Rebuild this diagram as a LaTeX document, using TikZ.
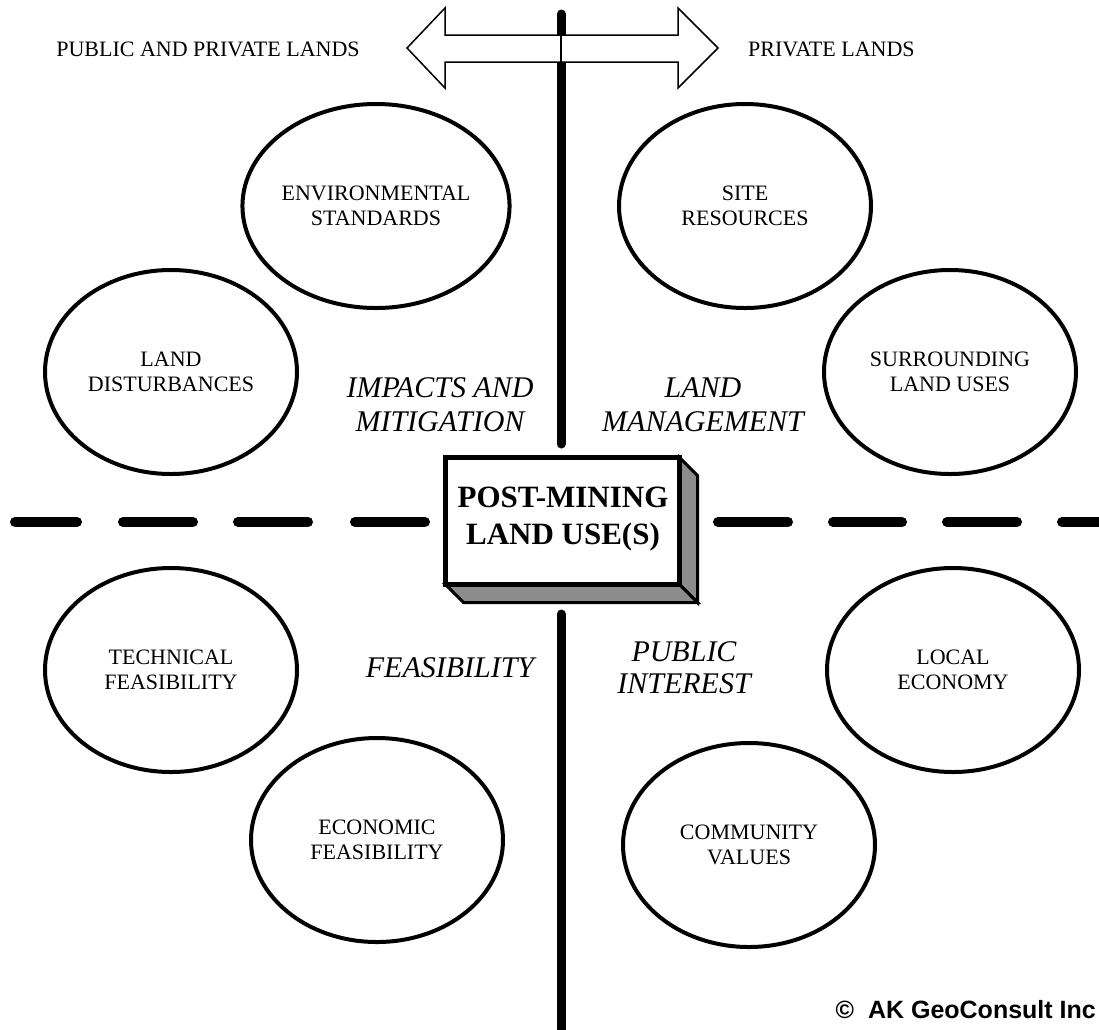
\documentclass[tikz,border=0pt]{standalone}
\usepackage{fontspec}
\setmainfont{Liberation Serif}
\newfontfamily\arialf{Liberation Sans}
\usetikzlibrary{shapes.geometric,calc}
\begin{document}
\begin{tikzpicture}[x=1pt,y=-1pt,
  oval/.style={draw, line width=4pt, ellipse, minimum width=252pt, minimum height=204pt,
    inner sep=0pt, align=center, font=\fontsize{22}{25}\selectfont},
  hdr/.style={font=\fontsize{22}{25}\selectfont, inner sep=0pt},
  itl/.style={font=\fontsize{30}{34}\selectfont\itshape, align=center, inner sep=0pt},
  divider/.style={line width=9pt, line cap=round},
  dashseg/.style={line width=10pt, line cap=round},
  side/.style={draw, line width=3pt, line join=miter, fill=black!45}]
\useasboundingbox (0,0) rectangle (1099,1029);

% vertical divider (upper part behind arrow)
\coordinate (vtop) at (561,14);
\coordinate (vmid) at (561,444);
\coordinate (vlow) at (561,614);
\coordinate (vbot) at (561,1040);
\draw[divider] (vtop) -- (vmid);
\draw[divider] (vlow) -- (vbot);

% double arrow
\draw[line width=1.5pt, fill=white, line join=miter]
  (407,48) -- (445,8) -- (445,35) -- (678,35) -- (678,8) -- (718,48)
  -- (678,88) -- (678,62) -- (445,62) -- (445,88) -- cycle;
\coordinate (atop) at (561,35);
\coordinate (abot) at (561,62);
\draw[line width=1.2pt] (atop) -- (abot);

% header labels
\node[hdr] (publab) at (208,49) {PUBLIC AND PRIVATE LANDS};
\node[hdr, anchor=west] (privlab) at (748,49) {PRIVATE LANDS};

% horizontal dashed divider
\foreach \a/\b in {15/77,123/193,238/308,355/425,718/788,833/902,947/1017,1062/1132}{
  \draw[dashseg] (\a,522) -- (\b,522);
}

% central box
\node[draw, line width=4.5pt, fill=white, minimum width=234pt, minimum height=127pt,
      inner sep=0pt, outer sep=0pt] (box) at (562.5,521) {};
\draw[side] (box.north east) -- ++(18,18) -- ($(box.south east)+(18,18)$) -- (box.south east) -- cycle;
\draw[side] (box.south west) -- ++(18,18) -- ($(box.south east)+(18,18)$) -- (box.south east) -- cycle;
\draw[line width=4.5pt] (box.north west) rectangle (box.south east);
\node[font=\fontsize{31}{37}\selectfont\bfseries, align=center, inner sep=0pt] (boxtxt)
  at (563,519) {POST-MINING\\LAND USE(S)};

% ellipses
\node[oval] (env)  at (376,206) {ENVIRONMENTAL\\STANDARDS};
\node[oval] (site) at (745,206) {SITE\\RESOURCES};
\node[oval] (dist) at (171,372) {LAND\\DISTURBANCES};
\node[oval] (surr) at (950,372) {SURROUNDING\\LAND USES};
\node[oval] (tech) at (171,670) {TECHNICAL\\FEASIBILITY};
\node[oval] (loc)  at (953,670) {LOCAL\\ECONOMY};
\node[oval] (econ) at (377,840) {ECONOMIC\\FEASIBILITY};
\node[oval] (comm) at (749,845) {COMMUNITY\\VALUES};

% italic quadrant labels
\node[itl] (impacts) at (440,405) {IMPACTS AND\\MITIGATION};
\node[itl] (landman) at (703,405) {LAND\\MANAGEMENT};
\node[itl] (feas) at (450,668) {FEASIBILITY};
\node[itl, font=\fontsize{30}{32}\selectfont\itshape] (pubint) at (684,668) {PUBLIC\\INTEREST};

% copyright
\node[font=\arialf\bfseries\fontsize{25}{28}\selectfont, anchor=east, inner sep=0pt] (copy)
  at (1096,1010) {©\ \ AK GeoConsult Inc};
\end{tikzpicture}
\end{document}
